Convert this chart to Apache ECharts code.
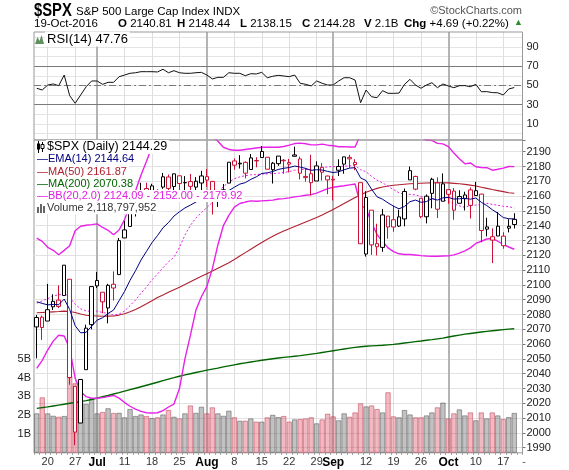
<!DOCTYPE html>
<html>
<head>
<meta charset="utf-8">
<script src="https://cdn.jsdelivr.net/npm/echarts@6/dist/echarts.min.js"></script>
<style>
  html, body { margin: 0; padding: 0; background: #fff; }
  #chart { width: 569px; height: 470px; }
</style>
</head>
<body>
<div id="chart"></div>
<script>
// trading days shown on the chart
const days = ['Jun 16','Jun 17','Jun 20','Jun 21','Jun 22','Jun 23','Jun 24','Jun 27','Jun 28','Jun 29','Jun 30',
  'Jul 1','Jul 5','Jul 6','Jul 7','Jul 8','Jul 11','Jul 12','Jul 13','Jul 14','Jul 15','Jul 18','Jul 19','Jul 20',
  'Jul 21','Jul 22','Jul 25','Jul 26','Jul 27','Jul 28','Jul 29',
  'Aug 1','Aug 2','Aug 3','Aug 4','Aug 5','Aug 8','Aug 9','Aug 10','Aug 11','Aug 12','Aug 15','Aug 16','Aug 17',
  'Aug 18','Aug 19','Aug 22','Aug 23','Aug 24','Aug 25','Aug 26','Aug 29','Aug 30','Aug 31',
  'Sep 1','Sep 2','Sep 6','Sep 7','Sep 8','Sep 9','Sep 12','Sep 13','Sep 14','Sep 15','Sep 16','Sep 19','Sep 20',
  'Sep 21','Sep 22','Sep 23','Sep 26','Sep 27','Sep 28','Sep 29','Sep 30',
  'Oct 3','Oct 4','Oct 5','Oct 6','Oct 7','Oct 10','Oct 11','Oct 12','Oct 13','Oct 14','Oct 17','Oct 18','Oct 19'];

// x axis labels (and vertical grid lines)
const tickDays = ['Jun 20','Jun 27','Jul 1','Jul 11','Jul 18','Jul 25','Aug 1','Aug 8','Aug 15','Aug 22','Aug 29',
  'Sep 1','Sep 12','Sep 19','Sep 26','Oct 3','Oct 10','Oct 17'];
const tickText = ['20','27','Jul','11','18','25','Aug','8','15','22','29','Sep','12','19','26','Oct','10','17'];
const monthTicks = ['Jul 1','Aug 1','Sep 1','Oct 3'];

const prevClose = 2071.50;

const opens = [2071.61,2078.20,2075.58,2085.19,2089.75,2092.80,2103.81,2031.45,2006.67,2042.69,
  2073.17,2099.34,2095.05,2084.43,2100.42,2106.97,2131.72,2139.50,2153.81,2157.88,
  2165.13,2162.04,2163.79,2166.10,2172.91,2166.47,2173.71,2168.97,2169.81,2166.05,
  2168.83,2173.15,2169.94,2156.81,2163.51,2168.79,2183.76,2182.24,2182.81,2177.97,
  2183.74,2186.08,2186.24,2177.84,2181.90,2184.24,2181.58,2187.81,2185.09,2173.29,
  2175.10,2170.19,2179.45,2173.56,2171.33,2177.49,2181.61,2185.17,2182.76,2169.08,
  2120.86,2150.47,2127.86,2125.36,2146.48,2143.99,2145.94,2144.58,2170.94,2173.29,
  2158.54,2146.04,2161.85,2168.90,2156.51,2164.33,2163.37,2155.15,2158.22,2164.19,
  2160.39,2161.35,2137.67,2130.26,2139.68,2132.95,2138.31,2140.81];
const highs = [2079.62,2079.30,2100.66,2093.66,2099.71,2113.32,2103.81,2031.45,2036.09,2073.13,
  2098.94,2108.71,2095.05,2100.72,2109.08,2131.71,2143.16,2155.40,2156.45,2168.99,
  2169.05,2168.35,2164.63,2175.63,2174.56,2175.11,2173.71,2173.54,2174.98,2172.85,
  2177.09,2178.29,2170.20,2163.79,2168.19,2182.87,2185.44,2187.66,2183.41,2188.45,
  2186.28,2193.81,2186.24,2183.08,2187.03,2185.00,2185.15,2193.42,2186.66,2179.00,
  2187.94,2183.48,2182.27,2173.79,2173.56,2184.87,2186.57,2187.87,2184.94,2169.08,
  2163.30,2150.47,2141.33,2151.31,2146.48,2153.61,2150.80,2165.11,2179.99,2173.75,
  2158.54,2161.13,2172.40,2172.67,2175.30,2164.41,2165.46,2163.95,2162.93,2165.86,
  2169.60,2161.56,2145.36,2138.19,2149.19,2135.61,2144.38,2148.44];
const lows = [2050.37,2062.84,2075.58,2083.02,2084.36,2092.80,2032.57,1991.68,2006.67,2042.69,
  2070.00,2097.90,2080.86,2074.02,2089.39,2106.97,2131.72,2139.50,2146.21,2157.88,
  2155.79,2159.07,2159.40,2164.89,2159.75,2163.24,2161.95,2160.18,2159.07,2159.74,
  2163.49,2166.21,2147.58,2152.70,2159.07,2168.79,2177.85,2178.61,2172.00,2177.97,
  2179.42,2186.08,2178.14,2168.50,2180.46,2175.13,2175.96,2186.80,2171.25,2169.74,
  2160.39,2170.19,2170.41,2161.35,2157.09,2173.59,2175.10,2179.07,2177.49,2127.81,
  2119.12,2120.27,2119.90,2122.36,2131.20,2135.91,2139.17,2139.57,2170.94,2163.97,
  2145.04,2141.55,2151.79,2145.20,2156.51,2154.77,2144.01,2155.15,2150.28,2144.85,
  2160.39,2128.84,2132.77,2114.72,2132.98,2124.43,2135.49,2138.15];
const closes = [2077.99,2071.22,2083.25,2088.90,2085.45,2113.32,2037.41,2000.54,2036.09,2070.77,
  2098.86,2102.95,2088.55,2099.73,2097.90,2129.90,2137.16,2152.14,2152.43,2163.75,
  2161.74,2166.89,2163.78,2173.02,2165.17,2175.03,2168.48,2169.18,2166.58,2170.06,
  2173.60,2170.84,2157.03,2163.79,2164.25,2182.87,2180.89,2181.74,2175.49,2185.79,
  2184.05,2190.15,2178.15,2182.22,2187.02,2183.87,2182.64,2186.90,2175.44,2172.47,
  2169.04,2180.38,2176.12,2170.95,2170.86,2179.98,2186.48,2186.16,2181.30,2127.81,
  2159.04,2127.02,2125.77,2147.26,2139.16,2139.12,2139.76,2163.12,2177.18,2164.69,
  2146.10,2159.93,2171.37,2151.13,2168.27,2161.20,2150.49,2159.73,2160.77,2153.74,
  2163.66,2136.73,2139.18,2132.55,2133.04,2126.50,2139.60,2144.29];

// volume, billions of shares
const volumes = [2.10,2.95,2.10,1.97,1.92,1.96,4.10,3.70,2.70,2.60,
  2.90,2.10,2.17,2.37,2.12,2.13,1.89,2.33,1.96,2.04,
  1.96,1.85,1.89,2.04,2.28,1.92,1.83,2.10,2.52,2.13,
  2.45,2.10,2.42,2.10,1.97,2.24,1.89,1.71,1.71,1.83,
  1.66,1.66,1.89,2.02,1.90,1.96,1.66,1.78,1.80,1.83,
  1.89,1.57,1.78,2.08,1.94,1.73,2.10,1.92,2.15,2.63,
  2.47,2.52,2.33,2.15,3.22,1.94,1.89,2.28,2.04,1.89,
  1.89,1.99,2.15,2.42,2.67,1.83,2.10,2.31,1.99,2.15,
  1.73,2.15,1.83,2.15,1.99,1.80,1.90,2.12];

const ema14 = [2088.6,2087.5,2086.5,2086.8,2086.6,2090.4,2083.4,2072.4,2067.6,2068.0,
  2072.1,2076.2,2077.8,2080.7,2083.0,2089.3,2095.6,2103.1,2109.6,2116.8,
  2122.7,2128.6,2133.3,2138.6,2142.1,2146.5,2149.4,2152.0,2153.9,2156.0,
  2158.3,2160.0,2159.6,2160.2,2160.7,2163.7,2166.0,2168.1,2169.1,2171.3,
  2173.0,2175.3,2175.7,2176.6,2178.0,2178.8,2179.3,2180.3,2179.6,2178.7,
  2177.4,2177.8,2177.6,2176.7,2175.9,2176.4,2177.8,2178.9,2179.2,2172.3,
  2170.5,2164.7,2159.5,2157.9,2155.4,2153.2,2151.4,2153.0,2156.2,2157.3,
  2155.8,2156.3,2158.3,2157.3,2158.8,2159.1,2158.0,2158.2,2158.5,2157.9,
  2158.7,2155.8,2153.6,2150.8,2148.4,2145.5,2144.7,2144.6];
const ma50 = [2081.2,2081.4,2081.6,2081.8,2082.0,2082.3,2082.0,2081.3,2080.3,2079.5,
  2079.2,2079.0,2078.8,2078.9,2079.0,2079.6,2080.5,2081.8,2083.4,2085.2,
  2087.2,2089.3,2091.5,2093.2,2095.0,2096.7,2098.4,2100.2,2102.1,2104.0,
  2105.8,2107.6,2109.4,2111.2,2113.1,2115.0,2117.2,2119.5,2121.8,2124.1,
  2126.4,2128.7,2130.8,2132.8,2134.7,2136.4,2138.0,2139.5,2141.0,2142.5,
  2144.0,2145.6,2147.3,2149.1,2151.0,2153.0,2155.0,2157.0,2159.0,2160.8,
  2162.6,2164.0,2165.2,2166.1,2166.8,2167.3,2167.7,2168.0,2168.3,2168.5,
  2168.7,2168.8,2168.9,2169.0,2169.0,2168.9,2168.6,2168.3,2167.9,2167.4,
  2166.8,2166.0,2165.2,2164.4,2163.7,2163.0,2162.3,2161.9];
const ma200 = [2016.6,2017.1,2017.6,2018.2,2018.8,2019.4,2020.0,2020.5,2021.1,2021.8,
  2022.6,2023.5,2024.4,2025.3,2026.3,2027.2,2028.2,2029.2,2030.2,2031.2,
  2032.2,2033.2,2034.2,2035.3,2036.3,2037.3,2038.3,2039.2,2040.0,2040.8,
  2041.6,2042.4,2043.1,2043.8,2044.6,2045.3,2046.0,2046.7,2047.3,2047.9,
  2048.5,2049.1,2049.6,2050.1,2050.6,2051.0,2051.4,2051.8,2052.2,2052.7,
  2053.2,2053.7,2054.3,2054.9,2055.5,2056.1,2056.7,2057.3,2057.8,2058.2,
  2058.5,2058.8,2059.0,2059.2,2059.5,2059.8,2060.2,2060.7,2061.2,2061.7,
  2062.1,2062.6,2063.0,2063.5,2064.0,2064.8,2065.5,2066.1,2066.7,2067.2,
  2067.7,2068.2,2068.6,2069.0,2069.4,2069.8,2070.1,2070.4];
const bbUpper = [2131.6,2129.4,2125.4,2123.4,2120.4,2123.3,2126.4,2136.6,2139.6,2140.3,
  2140.7,2141.2,2138.8,2136.9,2133.9,2137.1,2144.1,2154.0,2163.6,2174.3,
  2183.6,2193.4,2201.2,2208.2,2213.7,2217.9,2220.6,2217.4,2214.4,2207.4,
  2205.8,2205.6,2200.4,2197.0,2193.0,2191.5,2191.0,2191.0,2191.5,2192.0,
  2192.5,2193.0,2193.0,2193.0,2193.0,2193.5,2194.4,2195.5,2195.8,2195.4,
  2194.6,2194.6,2195.1,2194.4,2194.0,2193.3,2193.4,2193.2,2193.2,2201.6,
  2201.5,2204.6,2207.4,2208.5,2208.2,2206.3,2203.6,2201.7,2201.9,2201.4,
  2199.6,2197.9,2197.6,2195.6,2195.3,2193.4,2189.1,2185.3,2181.8,2182.4,
  2179.8,2179.3,2179.2,2177.5,2178.1,2178.9,2180.0,2179.9];
const bbMid = [2087.6,2089.2,2090.7,2092.7,2093.2,2094.4,2091.7,2086.8,2083.8,2082.4,
  2082.1,2082.3,2081.3,2080.7,2079.6,2080.3,2082.3,2086.0,2089.8,2094.4,
  2098.6,2103.4,2107.4,2111.6,2115.6,2118.7,2125.3,2133.7,2140.2,2145.2,
  2148.9,2152.3,2155.7,2162.0,2166.5,2169.3,2171.8,2173.0,2173.8,2174.4,
  2174.5,2174.9,2175.0,2175.2,2175.5,2175.9,2176.6,2177.5,2177.9,2178.0,
  2177.8,2178.3,2179.3,2179.7,2180.0,2179.9,2180.2,2180.4,2180.7,2177.8,
  2176.5,2173.3,2170.7,2169.0,2166.6,2164.4,2162.3,2161.1,2161.2,2160.8,
  2159.7,2158.7,2158.5,2157.5,2157.4,2156.5,2154.7,2153.4,2152.4,2153.7,
  2153.9,2154.4,2155.1,2154.4,2153.8,2153.1,2152.8,2152.0];
const bbLower = [2043.6,2049.0,2056.0,2062.0,2066.0,2065.5,2057.0,2037.0,2028.0,2024.5,
  2023.5,2023.4,2023.8,2024.5,2025.3,2023.5,2020.5,2018.0,2016.0,2014.5,
  2013.6,2013.4,2013.6,2015.0,2017.5,2019.5,2030.0,2050.0,2066.0,2083.0,
  2092.0,2099.0,2111.0,2127.0,2140.0,2147.0,2152.5,2155.0,2156.0,2156.8,
  2156.5,2156.8,2157.0,2157.3,2158.0,2158.3,2158.8,2159.5,2160.0,2160.6,
  2161.0,2162.0,2163.5,2165.0,2166.0,2166.5,2167.0,2167.6,2168.2,2154.0,
  2151.5,2142.0,2134.0,2129.5,2125.0,2122.5,2121.0,2120.5,2120.5,2120.2,
  2119.8,2119.5,2119.4,2119.4,2119.5,2119.6,2120.3,2121.5,2123.0,2125.0,
  2128.0,2129.5,2131.0,2131.3,2129.5,2127.3,2125.6,2124.1];

const rsi14 = [47.0,45.2,50.4,51.5,49.7,60.8,39.3,31.4,40.0,48.6,
  54.6,54.6,51.1,53.2,53.2,59.0,60.8,62.6,63.2,64.3,
  64.3,64.3,64.0,66.8,63.2,65.3,63.2,62.6,62.6,63.2,
  63.6,60.8,56.7,58.4,58.4,63.2,62.6,62.6,60.1,62.2,
  61.9,63.6,58.0,59.5,60.5,59.8,59.1,60.8,52.2,51.1,
  49.4,54.6,52.2,50.4,50.4,54.6,58.0,58.0,55.6,32.0,
  45.2,38.2,37.2,44.5,41.8,41.7,42.0,51.1,56.3,50.4,
  47.0,50.4,52.8,47.6,51.5,49.4,47.6,49.7,49.8,48.6,
  51.1,43.4,43.5,42.5,42.3,40.0,46.3,47.76];

const F = '"Liberation Sans", Arial, sans-serif';
const RED = '#cc1236';
const LEFT = 34, RIGHT = 46.5;
const cats = days.concat(['']);

const candleData = closes.map((c, i) => {
  const prev = i ? closes[i - 1] : prevClose;
  const col = c < prev ? RED : '#000';
  return { value: [opens[i], c, lows[i], highs[i]],
    itemStyle: { color: '#fff', color0: col, borderColor: col, borderColor0: col } };
});

const volData = volumes.map((v, i) => {
  const prev = i ? closes[i - 1] : prevClose;
  const down = closes[i] < prev;
  return { value: v, itemStyle: down
    ? { color: 'rgba(215,60,85,0.36)', borderColor: 'rgba(190,60,80,0.5)' }
    : { color: 'rgba(110,110,110,0.42)', borderColor: 'rgba(90,90,90,0.55)' } };
});

const vLines = tickDays.map(d => ({ xAxis: d,
  lineStyle: monthTicks.includes(d) ? { color: '#b4b4b4', width: 2, type: 'solid' }
                                    : { color: '#dedede', width: 1, type: 'solid' } }));

function mline(data) {
  return { silent: true, symbol: ['none', 'none'], z: 1, animation: false,
    label: { show: false }, lineStyle: { type: 'solid' }, data: data };
}

function priceLine(data, color, width, type, z) {
  return { type: 'line', xAxisIndex: 1, yAxisIndex: 1, data: data, symbol: 'none',
    lineStyle: { color: color, width: width, type: type || 'solid' }, z: z || 4, silent: true };
}

function txt(x, y, text, style, extra) {
  return Object.assign({ type: 'text', x: x, y: y, z: 100, silent: true,
    style: Object.assign({ text: text, fontFamily: F, fontSize: 12, fill: '#000',
      verticalAlign: 'middle', align: 'left' }, style || {}) }, extra || {});
}
const bold = { b: { fontWeight: 'bold', fontFamily: F, fontSize: 11.5, fill: '#000' } };

const legendRows = [
  ['$SPX (Daily) 2144.29', '#000', 46, 12.5],
  ['\u2014EMA(14) 2144.64', '#000080', 36, 11],
  ['\u2014MA(50) 2161.87', '#b02030', 36, 11],
  ['\u2014MA(200) 2070.38', '#006400', 36, 11],
  ['\u2014BB(20,2.0) 2124.09 - 2152.00 - 2179.92', '#e020e0', 36, 11],
  ['Volume 2,118,797,952', '#333', 46, 11]
];

const graphics = [
  txt(34, 11, '$SPX', { fontSize: 18, fontWeight: 'bold' }, { scaleX: 0.82 }),
  txt(76, 12, 'S&P 500 Large Cap Index INDX', { fontSize: 11.5 }),
  txt(522, 11, '\u00a9StockCharts.com', { fontSize: 11, fill: '#555', align: 'right' }),
  txt(34, 24, '19-Oct-2016', { fontSize: 11.5 }),
  txt(118, 24, '{b|O} 2140.81', { fontSize: 11.5, rich: bold }),
  txt(177, 24, '{b|H} 2148.44', { fontSize: 11.5, rich: bold }),
  txt(240, 24, '{b|L} 2138.15', { fontSize: 11.5, rich: bold }),
  txt(302, 24, '{b|C} 2144.28', { fontSize: 11.5, rich: bold }),
  txt(364, 24, '{b|V} 2.1B', { fontSize: 11.5, rich: bold }),
  txt(404, 24, '{b|Chg} +4.69 (+0.22%)', { fontSize: 11.5, rich: bold }),
  txt(514, 23, '\u25b2', { fontSize: 9, fill: '#2e8b2e' }),
  { type: 'rect', z: 50, silent: true, shape: { x: LEFT, y: 32, width: 569 - RIGHT - LEFT, height: 108 },
    style: { fill: 'none', stroke: '#999', lineWidth: 1 } },
  txt(45, 39, 'RSI(14) 47.76', { fontSize: 13, backgroundColor: '#fff', padding: [1, 2] }),
  { type: 'polygon', z: 101, silent: true,
    shape: { points: [[35, 44], [37.5, 37], [39.5, 41], [41.5, 35], [44, 44]] },
    style: { fill: '#5f8f5f' } }
];
legendRows.forEach((r, i) => {
  graphics.push(txt(r[2], 147 + i * 12.25, r[0],
    { fill: r[1], fontSize: r[3], backgroundColor: '#fff', padding: [1, 2, 0, 1] }));
});
// small icons in front of the price and volume legend rows
graphics.push({ type: 'group', z: 101, silent: true, children: [
  { type: 'rect', z: 101, shape: { x: 35, y: 141, width: 11, height: 12 }, style: { fill: '#fff' } },
  { type: 'line', z: 102, shape: { x1: 38.5, y1: 141, x2: 38.5, y2: 153 }, style: { stroke: '#000' } },
  { type: 'rect', z: 102, shape: { x: 37, y: 143.5, width: 3, height: 6 }, style: { fill: '#000' } },
  { type: 'line', z: 102, shape: { x1: 42.5, y1: 142, x2: 42.5, y2: 152 }, style: { stroke: '#000' } },
  { type: 'rect', z: 102, shape: { x: 41, y: 144.5, width: 3, height: 4 }, style: { fill: '#fff', stroke: '#000' } },
  { type: 'rect', z: 101, shape: { x: 35, y: 202, width: 11, height: 12 }, style: { fill: '#fff' } },
  { type: 'rect', z: 102, shape: { x: 37, y: 207, width: 2, height: 6 }, style: { fill: '#666' } },
  { type: 'rect', z: 102, shape: { x: 40, y: 204, width: 2, height: 9 }, style: { fill: '#666' } },
  { type: 'rect', z: 102, shape: { x: 43, y: 206, width: 2, height: 7 }, style: { fill: '#666' } }
] });

const chart = echarts.init(document.getElementById('chart'));
chart.setOption({
  animation: false,
  backgroundColor: '#fff',
  textStyle: { fontFamily: F },
  grid: [
    { left: LEFT, right: RIGHT, top: 32, bottom: 327 },
    { left: LEFT, right: RIGHT, top: 140, bottom: 7.5 },
    { left: LEFT, right: RIGHT, top: 140, bottom: 17.2, show: true, borderColor: '#999', borderWidth: 1 }
  ],
  xAxis: [
    { type: 'category', gridIndex: 0, data: cats, show: false },
    { type: 'category', gridIndex: 1, data: cats, show: false },
    { type: 'category', gridIndex: 2, data: cats,
      axisLine: { show: false },
      axisTick: { show: true, interval: 0, length: 2, lineStyle: { color: '#999' } },
      splitLine: { show: false },
      axisLabel: {
        interval: (i, v) => tickDays.includes(v),
        margin: 4,
        formatter: v => {
          const t = tickText[tickDays.indexOf(v)];
          return monthTicks.includes(v) ? '{m|' + t + '}' : '{d|' + t + '}';
        },
        rich: {
          m: { fontWeight: 'bold', fontSize: 12, color: '#000', fontFamily: F },
          d: { fontSize: 11, color: '#333', fontFamily: F }
        }
      } }
  ],
  yAxis: [
    { type: 'value', gridIndex: 0, position: 'right', min: -10, max: 105.625, interval: 10,
      axisLine: { show: false }, axisTick: { show: false },
      axisLabel: { margin: 4, fontSize: 11, color: '#222',
        formatter: v => [10, 30, 50, 70, 90].includes(v) ? String(v) : '' },
      splitLine: { show: true, showMinLine: false, showMaxLine: false, lineStyle: { color: '#e4e4e4' } } },
    { type: 'value', gridIndex: 1, position: 'right', min: 1980, max: 2197.9, interval: 10,
      axisLine: { show: false },
      axisTick: { show: true, length: 3, lineStyle: { color: '#777' } },
      axisLabel: { margin: 4, fontSize: 11, color: '#222',
        formatter: v => (v >= 1990 && v <= 2190 && v % 10 === 0) ? String(v) : '' },
      splitLine: { show: true, showMinLine: false, showMaxLine: false, lineStyle: { color: '#e2e2e2' } } },
    { type: 'value', gridIndex: 2, position: 'left', min: 0, max: 16.62, interval: 1,
      axisLine: { show: false }, axisTick: { show: false }, splitLine: { show: false },
      axisLabel: { margin: 3, fontSize: 11, color: '#222',
        formatter: v => (v >= 1 && v <= 5) ? v + 'B' : '' } }
  ],
  series: [
    { type: 'line', xAxisIndex: 0, yAxisIndex: 0, data: rsi14, symbol: 'none', z: 4,
      lineStyle: { color: '#111', width: 1 }, silent: true,
      markLine: mline(vLines.concat([
        { yAxis: 70, lineStyle: { color: '#7a7a7a', width: 1, type: 'solid' } },
        { yAxis: 30, lineStyle: { color: '#7a7a7a', width: 1, type: 'solid' } },
        { yAxis: 50, lineStyle: { color: '#7a7a7a', width: 1, type: [7, 3, 2, 3] } }
      ])) },
    { type: 'bar', xAxisIndex: 2, yAxisIndex: 2, data: volData, barCategoryGap: '0%', z: 2,
      itemStyle: { borderWidth: 1 }, silent: true, markLine: mline(vLines) },
    priceLine(ma200, '#006400', 1.4),
    priceLine(ma50, '#b02030', 1.1),
    priceLine(bbUpper, '#e822e8', 1.4),
    priceLine(bbLower, '#e822e8', 1.4),
    priceLine(bbMid, '#e822e8', 1, [2, 2]),
    { type: 'candlestick', xAxisIndex: 1, yAxisIndex: 1, data: candleData, barWidth: 4, z: 5,
      silent: true, itemStyle: { borderWidth: 1 } },
    priceLine(ema14, '#000080', 1, 'solid', 6)
  ],
  graphic: graphics
});
</script>
</body>
</html>
